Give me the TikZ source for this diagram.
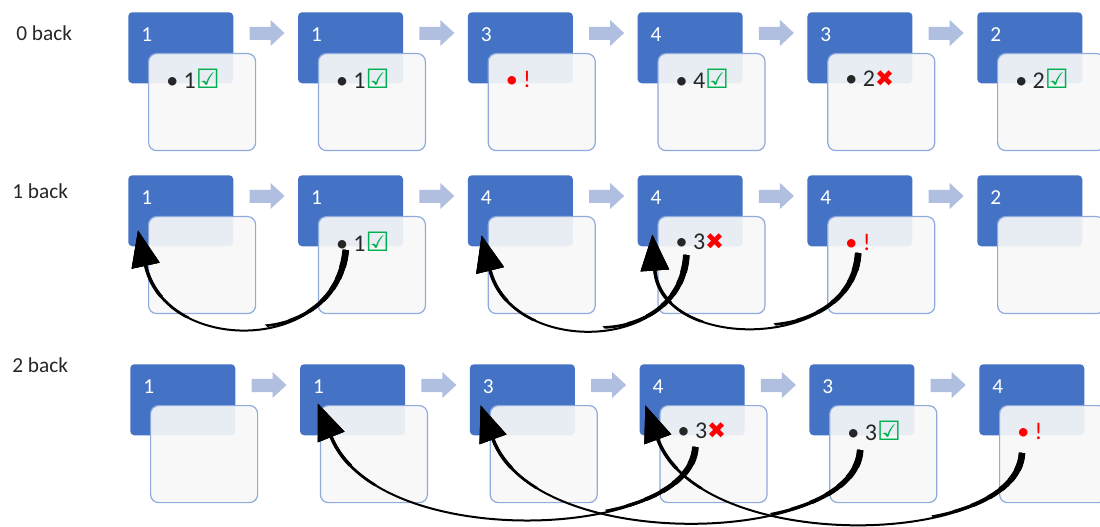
\documentclass[tikz,border=0pt]{standalone}
\usepackage{fontspec}
\setmainfont{Carlito}
\newfontfamily\symfont{DejaVu Sans}
\usetikzlibrary{calc,arrows.meta}
\definecolor{cardblue}{HTML}{4472C4}
\definecolor{cardedge}{HTML}{8FAADC}
\definecolor{cardfill}{HTML}{F7F7F7}
\definecolor{chevblue}{HTML}{B0BFE0}
\definecolor{okgreen}{HTML}{00B050}
\definecolor{badred}{HTML}{FF0000}
\definecolor{textgrey}{HTML}{262626}
\newcommand{\okmark}{{\symfont\fontsize{20}{20}\selectfont\color{okgreen}☑}}
\newcommand{\badmark}{{\symfont\fontsize{17}{18}\selectfont\color{badred}✖}}
\newcommand{\alarm}{{\color{badred}• !}}
\tikzset{
  back/.style={font=\fontsize{16}{19}\selectfont, text=textgrey, anchor=west, inner sep=0},
  topcard/.style={fill=cardblue, rounded corners=3pt, minimum width=78.75pt,
    minimum height=53.25pt, anchor=north west, inner sep=0},
  subcard/.style={fill=cardfill, fill opacity=0.92, draw=cardedge, line width=0.9pt,
    rounded corners=6pt, minimum width=80.25pt, minimum height=72.75pt,
    anchor=north west, inner sep=0},
  num/.style={text=white, font=\fontsize{16}{19}\selectfont, anchor=west, inner sep=0},
  item/.style={font=\fontsize{18}{22}\selectfont, text=textgrey, anchor=west, inner sep=0},
  chev/.style={fill=chevblue},
  jump/.style={-{Triangle[length=27pt,width=21pt]}, line width=1.5pt}
}
\begin{document}
\begin{tikzpicture}[x=0.75pt,y=-0.75pt]
\useasboundingbox (0,0) rectangle (1100,527);

% row labels
\node[back] (l0) at (16,33) {0 back};
\node[back] (l1) at (12,191) {1 back};
\node[back] (l2) at (12,365) {2 back};

% cards and the arrows between them
\foreach \r/\y/\x/\nums in {0/12/128/{1,1,3,4,3,2}, 1/175/128/{1,1,4,4,4,2}, 2/364/130/{1,1,3,4,3,4}} {
  \foreach \n [count=\c] in \nums {
    \node[topcard] (b\r\c) at ({\x+169.8*(\c-1)},\y) {};
    \node[num] (n\r\c) at ($(b\r\c.north west)+(13,23)$) {\n};
    \node[subcard] (w\r\c) at ($(b\r\c.north west)+(20,41)$) {};
    \ifnum\c<6
      \fill[chev] ($(b\r\c.north east)+(16,15)$) -- ++(21,0) -- ++(0,-7) -- ++(14,13)
        -- ++(-14,13) -- ++(0,-6) -- ++(-21,0) -- cycle;
    \fi
  }
}

% answers
\node[item] (t01) at ($(w01.north west)+(18,26)$) {• 1\okmark};
\node[item] (t02) at ($(w02.north west)+(18,26)$) {• 1\okmark};
\node[item] (t03) at ($(w03.north west)+(18,26)$) {\alarm};
\node[item] (t04) at ($(w04.north west)+(18,26)$) {• 4\okmark};
\node[item] (t05) at ($(w05.north west)+(18,26)$) {• 2\badmark};
\node[item] (t06) at ($(w06.north west)+(18,26)$) {• 2\okmark};
\node[item] (t12) at ($(w12.north west)+(18,26)$) {• 1\okmark};
\node[item] (t14) at ($(w14.north west)+(18,26)$) {• 3\badmark};
\node[item] (t15) at ($(w15.north west)+(18,26)$) {\alarm};
\node[item] (t24) at ($(w24.north west)+(18,26)$) {• 3\badmark};
\node[item] (t25) at ($(w25.north west)+(18,26)$) {• 3\okmark};
\node[item] (t26) at ($(w26.north west)+(18,26)$) {\alarm};

% where the jumps start and land
\coordinate (s12) at ($(w12.north west)+(28,34)$);
\coordinate (s14) at ($(w14.north west)+(29,39)$);
\coordinate (s15) at ($(w15.north west)+(31,37)$);
\coordinate (s24) at ($(w24.north west)+(36,42)$);
\coordinate (s25) at ($(w25.north west)+(31,45)$);
\coordinate (s26) at ($(w26.north west)+(23,48)$);
\coordinate (h11) at ($(b11.south west)+(10,-16)$);
\coordinate (h13) at ($(b13.south west)+(14,-11)$);
\coordinate (h14) at ($(b14.south west)+(15,-12)$);
\coordinate (h22) at ($(b22.south west)+(18,-32)$);
\coordinate (h23) at ($(b23.south west)+(11,-30)$);
\coordinate (h24) at ($(b24.south west)+(6,-30)$);

% tapered jumps
\foreach \a/\b/\p/\q in {s12/h11/{-10,105}/{27,124}, s14/h13/{-6,100}/{29,119},
    s15/h14/{-6,99}/{8,117}, s24/h22/{-5,93}/{60,150},
    s25/h23/{-5,95}/{55,150}, s26/h24/{-5,95}/{55,150}} {
  \draw[jump] (\a) .. controls +(\p) and +(\q) .. (\b);
  \foreach \rad/\wd in {110/2pt, 90/2.5pt, 72/3pt, 56/3.5pt, 42/4pt, 30/4.5pt, 18/5pt} {
    \begin{scope}
      \clip (\a) circle[radius=\rad];
      \draw[line width=\wd] (\a) .. controls +(\p) and +(\q) .. (\b);
    \end{scope}
  }
  \foreach \rad/\wd in {100/2pt, 70/2.6pt} {
    \begin{scope}
      \clip (\b) circle[radius=\rad];
      \draw[jump, line width=\wd] (\a) .. controls +(\p) and +(\q) .. (\b);
    \end{scope}
  }
}
\end{tikzpicture}
\end{document}
